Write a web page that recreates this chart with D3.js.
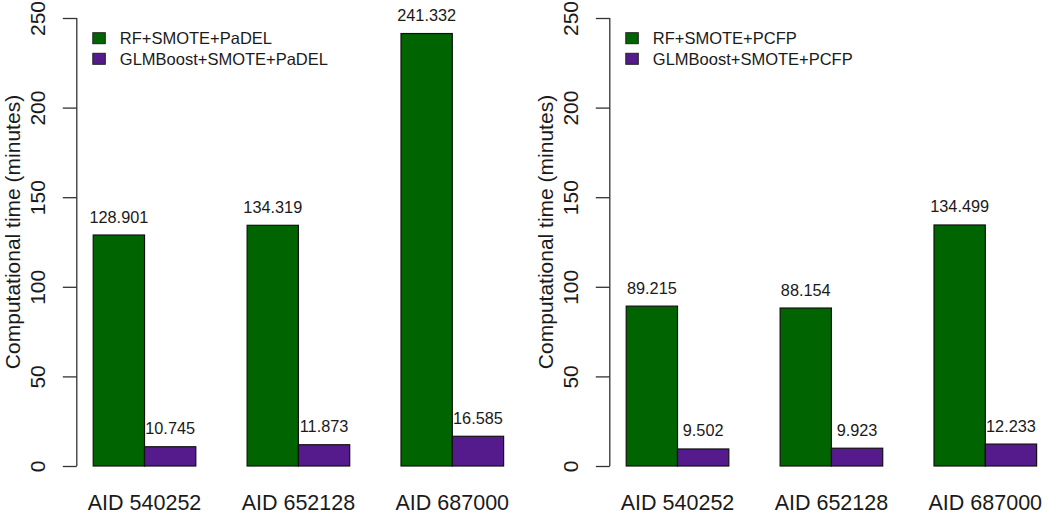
<!DOCTYPE html>
<html>
<head>
<meta charset="utf-8">
<script src="https://cdn.jsdelivr.net/npm/d3@7"></script>
<style>
  html, body { margin: 0; padding: 0; background: #fff; }
  svg { display: block; }
  text { font-family: "Liberation Sans", Arial, sans-serif; fill: #1a1a1a; }
</style>
</head>
<body>
<svg id="chart" width="1050" height="515"></svg>
<script>
// ---- data ----
const categories = ["AID 540252", "AID 652128", "AID 687000"];
const leftSeries = ["RF+SMOTE+PaDEL", "GLMBoost+SMOTE+PaDEL"];
const leftRF = [128.901, 134.319, 241.332];
const leftGLM = [10.745, 11.873, 16.585];
const rightSeries = ["RF+SMOTE+PCFP", "GLMBoost+SMOTE+PCFP"];
const rightRF = [89.215, 88.154, 134.499];
const rightGLM = [9.502, 9.923, 12.233];
const yTicks = [0, 50, 100, 150, 200, 250];
const yTitle = "Computational time (minutes)";
const colors = ["#006400", "#551A8B"];

const svg = d3.select("#chart");

function panel(originX, seriesNames, valuesA, valuesB) {
  const unit = 51.3;
  const rangeW = 8.64 * unit;
  const g = svg.append("g").attr("transform", `translate(${originX},0)`);

  const y = d3.scaleLinear().domain([0, 250]).range([466, 18]);
  const x0 = d3.scaleBand().domain(categories).range([0, rangeW])
    .paddingInner(1 / 3).paddingOuter(0.1067);
  const x1 = d3.scaleBand().domain(seriesNames).range([0, x0.bandwidth()]).padding(0);
  const color = d3.scaleOrdinal().domain(seriesNames).range(colors);

  const rows = categories.map((c, i) => ({
    cat: c,
    vals: [
      { s: seriesNames[0], v: valuesA[i] },
      { s: seriesNames[1], v: valuesB[i] }
    ]
  }));

  // y axis
  const yAxis = d3.axisLeft(y).tickValues(yTicks).tickSize(14).tickPadding(0).tickFormat(d3.format("d"));
  const ax = g.append("g").call(yAxis);
  ax.select(".domain").attr("d", `M0,${y(0)}V${y(250)}`).attr("stroke", "#333").attr("stroke-width", 1.3);
  ax.selectAll(".tick line").attr("stroke", "#333").attr("stroke-width", 1.3);
  ax.selectAll(".tick text")
    .attr("x", 0).attr("y", 0).attr("dy", 0)
    .attr("transform", "translate(-31.5,0) rotate(-90)")
    .attr("text-anchor", "middle")
    .style("font-size", "21px")
    .style("font-family", '"Liberation Sans", Arial, sans-serif')
    .attr("fill", "#1a1a1a");

  // y title
  g.append("text")
    .attr("transform", `translate(-57,232) rotate(-90)`)
    .attr("text-anchor", "middle")
    .style("font-size", "21px")
    .text(yTitle);

  // bars
  const grp = g.selectAll(".grp").data(rows).join("g")
    .attr("transform", d => `translate(${x0(d.cat)},0)`);
  grp.selectAll("rect").data(d => d.vals).join("rect")
    .attr("x", d => x1(d.s))
    .attr("y", d => y(d.v))
    .attr("width", x1.bandwidth())
    .attr("height", d => y(0) - y(d.v))
    .attr("fill", d => color(d.s))
    .attr("stroke", "#111")
    .attr("stroke-width", 1.2);
  grp.selectAll("text.val").data(d => d.vals).join("text")
    .attr("class", "val")
    .attr("x", d => x1(d.s) + x1.bandwidth() / 2)
    .attr("y", d => y(d.v) - 12.5)
    .attr("text-anchor", "middle")
    .style("font-size", "16.3px")
    .text(d => d3.format(".3f")(d.v));

  // x labels
  g.selectAll("text.cat").data(categories).join("text")
    .attr("class", "cat")
    .attr("x", d => x0(d) + x0.bandwidth() / 2)
    .attr("y", 509.5)
    .attr("text-anchor", "middle")
    .style("font-size", "21.5px")
    .text(d => d);

  // legend
  const lg = g.selectAll(".lg").data(seriesNames).join("g")
    .attr("transform", (d, i) => `translate(16,${32.7 + i * 20.6})`);
  lg.append("rect").attr("width", 12.5).attr("height", 11)
    .attr("fill", d => color(d)).attr("stroke", "#222").attr("stroke-width", 1);
  lg.append("text").attr("x", 27).attr("y", 11.6)
    .style("font-size", "16.5px").text(d => d);
}

panel(76.8, leftSeries, leftRF, leftGLM);
panel(609.8, rightSeries, rightRF, rightGLM);
</script>
</body>
</html>
